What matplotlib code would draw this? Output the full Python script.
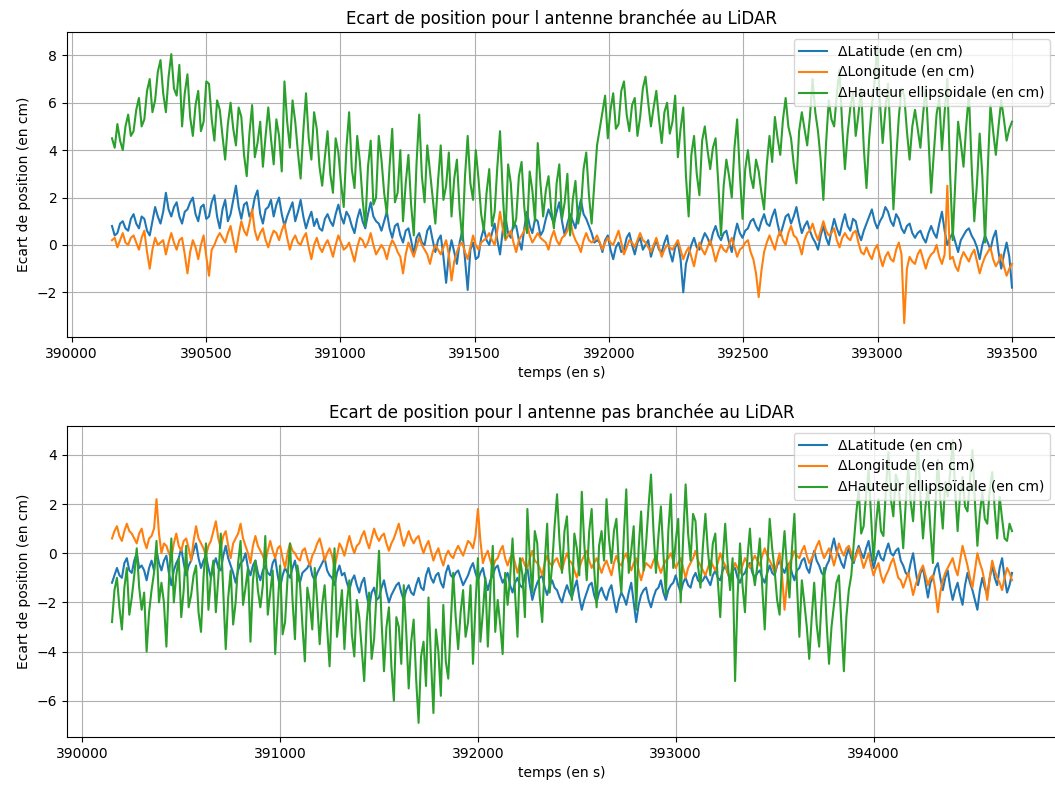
import numpy as np
import matplotlib
matplotlib.use('Agg')
import matplotlib.pyplot as plt

# antenne branchee au LiDAR : 390150 -> 393500 s
t1_start, t1_end = 390150, 393500
lat1 = [0.8, 0.5, 1.0, 0.6, 1.3, 0.7, 1.1, 0.4, 1.6, 0.9,
        2.2, 1.2, 1.8, 0.9, 1.5, 2.0, 1.0, 1.7, 1.2, 2.1,
        0.7, 1.9, 1.3, 2.5, 1.1, 1.8, 1.4, 2.3, 0.9, 1.6,
        1.2, 2.0, 0.8, 1.5, 1.0, 1.9, 0.7, 1.4, 1.1, 0.6,
        1.3, 0.8, 1.7, 0.9, 1.2, 0.5, 1.5, 0.7, 1.8, 1.0,
        0.6, 1.4, 0.3, 0.9, 0.1, 0.7, -0.4, 0.5, 0.0, 0.8,
        -0.3, 0.4, -1.6, 0.2, -0.8, 0.6, -1.9, 0.1, -0.5, 0.7,
        0.0, 0.9, -0.4, 1.2, 0.3, 0.8, -0.2, 1.4, 0.5, 1.0,
        0.6, 1.5, 0.9, 1.8, 0.4, 1.3, 0.7, 1.9, 1.1, 0.5,
        0.2, -0.3, 0.4, -0.6, 0.1, -0.2, 0.5, -0.4, 0.3, 0.0,
        -0.5, 0.2, -0.3, 0.4, -0.7, 0.1, -2.0, -0.4, 0.3, -0.2,
        0.5, 0.0, 0.8, 0.2, 0.6, -0.3, 0.9, 0.3, 0.7, 1.1,
        0.6, 1.3, 0.8, 1.5, 0.4, 1.2, 0.9, 1.6, 0.5, 1.0,
        0.3, -0.2, 0.8, 0.0, 1.1, 0.4, 1.3, 0.6, 1.0, 0.2,
        0.9, 1.5, 0.7, 1.2, 1.4, 0.8, 1.1, 0.5, 0.9, 0.3,
        0.6, 0.1, 0.8, 0.3, 1.4, 0.0, 0.5, -0.3, 0.4, 0.7,
        0.2, -0.6, 0.4, -0.2, 0.6, -1.0, 0.1, -1.8]
lat1_mid = [0.4, 0.9, 0.7, 1.1, 0.9, 1.2, 0.6, 1.0, 1.2, 1.4,
            1.5, 1.6, 1.2, 1.4, 1.8, 1.3, 1.6, 1.1, 1.8, 1.2,
            1.5, 1.0, 1.9, 1.6, 1.7, 1.2, 2.0, 1.3, 1.5, 1.9,
            1.7, 1.3, 1.2, 1.8, 1.4, 1.2, 1.1, 0.8, 0.7, 1.1,
            1.0, 1.3, 1.2, 1.4, 0.8, 1.1, 1.0, 1.3, 1.2, 0.9,
            1.0, 0.7, 0.8, 0.4, 0.6, 0.2, 0.3, 0.1, 0.6, 0.2,
            0.2, -0.5, -0.4, -0.3, 0.1, -0.6, -0.2, -0.6, 0.3, 0.2,
            0.5, 0.2, 0.6, 0.5, 0.9, 0.2, 0.7, 0.8, 1.1, 0.4,
            1.1, 1.2, 1.4, 1.0, 0.9, 1.0, 1.4, 1.3, 0.8, 0.1,
            0.1, 0.2, -0.2, -0.1, -0.3, 0.3, 0.0, 0.1, -0.2, 0.2,
            -0.1, -0.2, 0.1, -0.3, -0.1, -0.6, -0.8, 0.0, -0.1, 0.2,
            0.3, 0.5, 0.4, 0.5, 0.1, 0.4, 0.5, 0.6, 1.0, 0.8,
            1.0, 0.9, 1.2, 0.9, 0.8, 1.3, 1.2, 1.0, 0.8, 0.6,
            0.1, 0.4, 0.3, 0.6, 0.7, 0.9, 0.8, 1.1, 0.5, 0.6,
            1.2, 1.0, 1.0, 1.6, 1.0, 1.3, 0.7, 0.8, 0.5, 0.5,
            0.3, 0.5, 0.5, 0.9, 0.6, 0.3, 0.1, 0.2, 0.6, 0.4,
            -0.1, 0.0, 0.1, 0.3, -0.3, -0.4, -0.5]
lon1 = [0.2, -0.1, 0.5, 0.0, 0.4, -0.2, 0.6, -1.0, 0.3, 0.1,
        -0.4, 0.5, -0.2, 0.3, -1.2, 0.2, -0.6, 0.4, -1.3, 0.0,
        0.5, 0.1, 0.8, -0.3, 1.0, 0.4, 1.5, 0.2, 0.7, -0.1,
        0.6, 0.2, 0.9, -0.2, 0.4, 0.0, 0.5, -0.6, 0.3, -0.3,
        0.2, -0.5, 0.4, -0.2, 0.1, -0.7, 0.3, -0.1, 0.5, -0.4,
        0.0, -0.6, 0.2, -0.3, -1.2, 0.1, -0.5, 0.3, -0.2, -0.8,
        0.0, -0.4, 0.2, -1.5, -0.3, 0.1, -0.6, 0.4, -0.2, 0.2,
        0.5, 0.0, 1.4, 0.2, 0.6, -0.3, 0.4, 0.9, 0.1, 0.5,
        0.2, -0.2, 0.6, 0.0, 0.4, 1.1, 0.2, -0.3, 0.5, 0.1,
        0.4, -0.2, 0.3, 0.0, 0.6, -0.4, 0.2, -0.1, 0.5, 0.1,
        -0.3, 0.3, -0.5, 0.0, -0.2, 0.2, -0.6, -0.1, -0.9, 0.1,
        -0.4, 0.2, -0.7, 0.0, -0.3, 0.3, -0.5, -0.1, 0.2, -0.6,
        -2.2, -0.3, 0.4, -0.2, 0.6, 0.0, 0.8, 0.3, -0.4, 0.5,
        0.9, 0.2, 1.0, 0.4, 0.7, -0.1, 0.5, 0.2, 0.6, -0.3,
        -0.1, -0.6, 0.0, -0.9, -0.3, -0.7, 0.1, -3.3, -0.5, -0.8,
        -0.2, -1.0, -0.4, 0.0, -0.8, 2.5, -0.5, -1.1, -0.3, -0.7,
        -0.2, -1.2, -0.5, -0.1, -0.9, -0.4, -1.3, -0.8]
lon1_mid = [0.3, 0.2, 0.1, 0.3, 0.1, 0.3, -0.3, -0.2, 0.0, 0.2,
            0.1, 0.1, 0.2, -0.4, -0.3, -0.1, 0.0, -0.5, -0.2, 0.3,
            0.3, 0.5, 0.2, 0.4, 0.6, 0.9, 0.6, 0.5, 0.2, 0.3,
            0.5, 0.6, 0.3, 0.2, 0.1, 0.3, -0.1, 0.0, -0.1, 0.0,
            -0.1, 0.0, 0.1, -0.1, -0.3, -0.1, 0.2, 0.1, 0.0, -0.2,
            -0.2, -0.1, 0.0, -0.5, -0.4, -0.2, -0.1, 0.0, -0.4, -0.3,
            -0.2, -0.1, -0.4, -0.7, 0.0, -0.3, -0.1, 0.0, 0.1, 0.3,
            0.2, 0.6, 0.7, 0.4, 0.1, 0.2, 0.6, 0.4, 0.3, 0.3,
            0.1, 0.3, 0.2, 0.3, 0.6, 0.5, 0.0, 0.2, 0.2, 0.2,
            0.1, 0.1, 0.1, 0.3, 0.1, -0.1, 0.1, 0.2, 0.2, -0.1,
            0.0, -0.1, -0.2, -0.1, 0.0, -0.2, -0.3, -0.5, -0.3, -0.2,
            -0.1, -0.2, -0.3, -0.2, 0.0, -0.1, -0.2, 0.1, -0.3, -1.2,
            -1.1, 0.1, 0.1, 0.3, 0.2, 0.5, 0.4, 0.0, 0.2, 0.6,
            0.5, 0.6, 0.6, 0.5, 0.2, 0.3, 0.3, 0.5, 0.1, -0.4,
            -0.4, -0.2, -0.5, -0.5, -0.6, -0.2, -0.4, -1.0, -0.7, -0.4,
            -0.6, -0.6, -0.3, -0.5, -0.4, -0.6, -0.9, -0.6, -0.5, -0.4,
            -0.7, -0.8, -0.3, -0.6, -0.7, -0.9, -1.0]
haut1 = [4.5, 5.1, 4.0, 5.5, 4.8, 6.2, 5.3, 7.0, 6.1, 7.8,
         5.6, 8.05, 6.3, 5.0, 7.2, 4.6, 6.5, 5.2, 6.8, 4.4,
         5.7, 3.6, 6.0, 4.2, 5.4, 2.9, 5.9, 4.3, 3.3, 5.8,
         3.4, 4.6, 6.9, 4.1, 5.2, 2.8, 6.4, 3.6, 4.9, 2.5,
         4.8, 2.2, 3.9, 1.6, 5.6, 2.4, 3.5, 0.8, 4.4, 2.0,
         3.6, 1.3, 4.9, 2.2, 1.0, 3.8, 0.4, 5.5, 1.8, 3.1,
         0.9, 4.2, 2.5, 1.2, 3.6, 0.2, 4.6, 1.9, 2.8, 0.6,
         3.2, 1.4, 4.8, 0.3, 2.6, 1.1, 3.5, 0.5, 2.3, 4.3,
         1.2, 2.9, 0.7, 3.4, 1.8, 0.4, 2.7, 1.5, 3.9, 0.9,
         4.2, 5.6, 4.5, 6.4, 5.1, 6.9, 4.8, 6.2, 5.4, 7.1,
         5.0, 6.5, 4.3, 6.0, 5.2, 3.7, 5.8, 1.2, 4.6, 2.1,
         5.0, 3.2, 4.5, 0.4, 3.6, 2.0, 5.3, 1.1, 4.0, 2.4,
         3.1, 1.5, 4.6, 5.4, 3.8, 6.2, 4.5, 2.6, 5.6, 4.2,
         7.0, 4.8, 1.9, 6.1, 5.0, 7.4, 3.2, 5.8, 4.6, 6.6,
         2.4, 5.9, 8.4, 4.3, 6.8, 1.5, 5.4, 6.3, 3.6, 5.7,
         4.1, 6.7, 2.2, 5.5, 4.0, 7.0, 0.2, 5.2, 3.3, 6.4,
         1.0, 4.7, 0.1, 5.9, 3.8, 6.1, 4.4, 5.2]
haut1_mid = [4.1, 4.4, 5.0, 4.6, 5.7, 5.0, 6.5, 5.6, 7.3, 6.4,
             7.1, 6.6, 7.6, 6.4, 5.4, 5.9, 4.8, 6.9, 5.3, 6.1,
             4.6, 5.1, 4.9, 5.8, 3.8, 4.7, 3.7, 5.2, 4.6, 4.5,
             5.3, 3.1, 5.2, 6.1, 3.9, 4.8, 4.5, 5.6, 3.3, 3.7,
             3.0, 4.5, 2.6, 4.1, 3.2, 4.6, 1.9, 3.3, 1.7, 4.6,
             2.2, 3.3, 1.8, 4.0, 2.6, 1.7, 3.4, 2.9, 4.2, 2.0,
             2.7, 1.9, 3.9, 2.8, 1.5, 2.9, 2.6, 4.0, 1.3, 2.2,
             0.8, 3.3, 2.2, 3.4, 0.7, 2.9, 1.6, 3.1, 1.0, 2.6,
             2.3, 1.5, 2.6, 1.1, 3.0, 1.9, 0.9, 3.2, 2.1, 2.6,
             4.9, 6.3, 5.7, 4.9, 6.5, 5.5, 5.9, 4.6, 6.6, 6.0,
             5.8, 5.3, 5.6, 4.7, 6.3, 4.9, 2.9, 3.8, 3.0, 4.4,
             4.0, 4.1, 2.6, 2.5, 2.9, 4.1, 3.0, 3.2, 2.9, 3.6,
             2.2, 3.4, 3.5, 4.5, 5.3, 5.0, 3.4, 4.8, 4.9, 5.4,
             5.6, 3.6, 4.3, 5.3, 6.4, 5.0, 4.7, 6.4, 5.5, 4.1,
             4.5, 6.9, 6.0, 5.7, 4.4, 3.6, 6.6, 4.8, 5.0, 4.9,
             5.5, 4.5, 3.9, 6.2, 5.6, 3.1, 2.8, 4.3, 5.0, 3.4,
             2.6, 2.9, 3.2, 4.8, 5.0, 5.3, 4.9]

# antenne pas branchee au LiDAR : 390150 -> 394700 s
t2_start, t2_end = 390150, 394700
lat2 = [-1.2, -0.6, -1.0, -0.2, -0.8, 0.0, -0.5, -1.1, -0.3, 0.1,
        -0.7, -0.1, -1.3, -0.4, 0.2, -0.9, -0.3, 0.4, -0.6, -0.1,
        -1.0, -0.2, -0.7, 0.3, -0.5, -1.2, -0.4, 0.0, -0.9, -0.3,
        -1.1, -0.5, -0.9, -0.2, -1.4, -0.6, -1.0, -0.3, -1.2, -0.7,
        -0.4, -1.1, -0.6, -0.2, -0.9, -1.3, -0.5, -0.8, -1.5, -0.9,
        -1.6, -1.0, -2.2, -1.4, -1.8, -1.1, -2.0, -1.5, -1.2, -1.9,
        -1.3, -1.7, -1.0, -1.5, -0.6, -1.2, -0.8, -1.4, -0.5, -1.0,
        -0.7, -1.3, -0.9, -0.4, -1.1, -0.6, -1.5, -0.9, -0.5, -1.2,
        -0.8, -1.6, -1.0, -1.4, -0.6, -1.9, -1.2, -0.9, -1.7, -1.1,
        -1.5, -2.0, -1.3, -1.8, -1.1, -2.3, -1.6, -1.2, -2.0, -1.4,
        -1.9, -1.3, -2.4, -1.6, -2.1, -1.2, -2.8, -1.7, -1.4, -2.2,
        -1.5, -1.1, -1.9, -1.3, -0.9, -1.6, -1.0, -1.4, -0.8, -1.2,
        -0.9, -1.3, -0.7, -1.1, -0.5, -1.0, -0.6, -1.2, -0.8, -0.4,
        -1.0, -0.7, -1.2, -0.5, -0.9, -0.3, -0.8, -0.4, -1.1, -0.6,
        -0.2, -0.8, 0.1, -0.5, -0.9, -0.3, 0.6, -0.1, -0.6, 0.2,
        -0.4, 0.3, -0.2, 0.5, -0.6, 0.1, -0.3, 0.4, -0.1, 0.2,
        -0.5, -0.9, 0.0, -1.3, -0.6, -1.8, -1.0, -0.4, -1.5, -0.7,
        -1.9, -1.2, -2.1, -0.8, -1.5, -2.3, -1.0, -1.7, -0.5, -1.3,
        -0.2, -1.6, -0.8]
lat2_mid = [-0.9, -0.9, -0.4, -0.7, -0.3, -0.6, -0.7, -0.6, -0.7, -0.4,
            -0.3, -0.8, -0.7, -0.2, -0.4, -0.5, 0.1, -0.2, -0.3, -0.6,
            -0.5, -0.6, -0.1, -0.2, -0.8, -0.7, -0.3, -0.6, -0.5, -0.8,
            -0.7, -0.8, -0.4, -0.9, -0.9, -0.8, -0.6, -0.9, -0.8, -0.6,
            -0.9, -0.8, -0.4, -0.7, -1.0, -0.8, -0.9, -1.2, -1.1, -1.3,
            -1.2, -1.7, -1.6, -1.9, -1.4, -1.6, -1.7, -1.3, -1.6, -1.5,
            -1.6, -1.3, -1.4, -0.9, -1.0, -0.9, -1.2, -0.8, -0.9, -0.8,
            -1.0, -1.1, -0.6, -0.8, -0.8, -1.1, -1.1, -0.6, -0.9, -1.0,
            -1.3, -1.2, -1.3, -0.9, -1.3, -1.5, -1.0, -1.4, -1.3, -1.4,
            -1.8, -1.6, -1.6, -1.4, -1.8, -1.9, -1.3, -1.7, -1.6, -1.7,
            -1.5, -1.9, -1.9, -1.8, -1.6, -2.0, -2.1, -1.5, -1.9, -1.8,
            -1.4, -1.6, -1.5, -1.2, -1.3, -1.2, -1.3, -1.0, -1.1, -1.1,
            -1.1, -0.9, -1.0, -0.7, -0.8, -0.7, -1.0, -0.9, -0.5, -0.8,
            -0.8, -1.0, -0.8, -0.8, -0.5, -0.6, -0.5, -0.8, -0.7, -0.3,
            -0.6, -0.3, -0.3, -0.8, -0.5, 0.2, 0.1, -0.4, -0.1, -0.2,
            0.0, 0.0, 0.2, -0.1, -0.2, -0.2, 0.1, 0.0, 0.1, -0.3,
            -0.8, -0.4, -0.7, -0.8, -1.2, -1.2, -0.6, -1.0, -1.0, -1.4,
            -1.5, -1.7, -1.3, -1.2, -1.9, -1.5, -1.4, -1.0, -1.0, -0.6,
            -1.0, -1.3]
lon2 = [0.6, 1.1, 0.5, 1.2, 0.8, 0.4, 1.0, 0.2, 0.7, 2.2,
        0.0, 0.3, -0.2, 0.8, 0.1, 0.6, -0.3, 1.1, 0.4, -0.1,
        0.5, 1.3, 0.2, 0.9, -0.2, 0.6, 1.2, 0.3, -0.4, 0.7,
        0.1, -0.4, 0.5, -0.2, 0.3, -0.6, 0.4, 0.0, -0.3, 0.2,
        -0.5, 0.1, 0.6, -0.3, 0.2, -0.6, 0.4, -0.1, 0.7, 0.0,
        0.4, 0.9, 0.2, 1.0, 0.5, 0.8, 0.1, 0.6, 1.2, 0.3,
        0.9, 0.4, 0.7, 0.0, 0.5, -0.3, 0.2, -0.5, 0.1, -0.2,
        0.3, -0.1, 0.5, 0.2, 1.8, -0.4, 0.1, -0.6, -0.2, 0.3,
        -0.5, 0.0, -0.8, -0.2, -0.6, 0.1, -0.4, -0.9, -0.1, -0.5,
        -0.2, -0.7, 0.0, -0.4, -1.0, -0.3, 0.1, -0.6, -0.2, -0.8,
        -0.3, -0.9, -0.1, -0.5, 0.0, -0.7, -0.2, -1.1, -0.4, -0.6,
        -0.1, -0.8, -0.3, 0.0, -0.6, -0.2, -1.0, -0.4, 0.1, -0.5,
        -0.9, -0.3, -0.7, 0.0, -0.5, -1.1, -0.4, -0.8, -0.2, -0.6,
        -0.1, -0.5, 0.2, -0.3, -0.8, 0.0, -2.3, -0.4, 0.1, -0.2,
        0.3, -0.4, 0.0, 0.5, -0.2, 0.2, -0.5, 0.4, -0.1, 0.3,
        -0.3, 0.2, -0.6, 0.0, -0.9, -0.4, -1.2, -0.7, -0.2, -1.0,
        -1.4, -0.8, -1.7, -1.0, -0.5, -1.3, -0.9, -2.4, -1.1, -0.6,
        -0.2, -0.9, 0.3, -0.5, -1.4, 0.0, -0.7, -1.9, -0.3, -1.0,
        -1.5, -0.6, -1.1]
lon2_mid = [0.9, 0.7, 0.9, 0.9, 0.6, 0.8, 0.5, 0.6, 1.0, 0.8,
            0.4, 0.0, 0.4, 0.3, 0.5, 0.2, 0.5, 0.6, 0.2, 0.3,
            0.9, 0.6, 0.7, 0.3, 0.4, 0.8, 0.6, 0.0, 0.3, 0.3,
            -0.1, 0.1, 0.1, 0.2, -0.2, 0.0, 0.1, -0.2, 0.1, -0.2,
            -0.1, 0.4, 0.2, 0.0, -0.1, -0.1, 0.2, 0.3, 0.3, 0.3,
            0.7, 0.5, 0.6, 0.7, 0.7, 0.4, 0.4, 0.9, 0.7, 0.6,
            0.6, 0.6, 0.3, 0.3, 0.1, 0.0, -0.2, -0.1, -0.1, 0.1,
            0.1, 0.2, 0.4, 0.7, 0.5, -0.1, -0.3, -0.3, 0.1, -0.2,
            -0.2, -0.4, -0.4, -0.5, -0.2, -0.3, -0.6, -0.4, -0.4, -0.3,
            -0.5, -0.3, -0.3, -0.7, -0.6, -0.1, -0.3, -0.4, -0.5, -0.5,
            -0.6, -0.4, -0.4, -0.2, -0.4, -0.4, -0.7, -0.7, -0.5, -0.3,
            -0.5, -0.5, -0.2, -0.3, -0.4, -0.6, -0.6, -0.2, -0.3, -0.7,
            -0.6, -0.5, -0.4, -0.3, -0.8, -0.7, -0.6, -0.5, -0.4, -0.3,
            -0.3, -0.1, -0.1, -0.5, -0.4, -0.9, -1.2, -0.2, -0.1, 0.1,
            -0.1, -0.2, 0.3, 0.1, 0.0, -0.1, -0.1, 0.1, 0.2, 0.0,
            -0.1, -0.2, -0.3, -0.5, -0.6, -0.9, -0.9, -0.4, -0.6, -1.1,
            -1.1, -1.2, -1.3, -0.7, -0.9, -1.0, -1.5, -1.6, -0.8, -0.4,
            -0.6, -0.3, -0.1, -1.0, -0.7, -0.4, -1.2, -1.0, -0.7, -1.2,
            -1.0, -0.8]
haut2 = [-2.8, -1.0, -3.1, -0.6, -1.8, 0.2, -2.3, -4.0, -1.5, 0.5,
         -1.2, -3.8, 0.6, -0.9, -2.6, 0.3, -1.7, -0.5, -3.2, 0.4,
         -1.0, -2.4, 0.8, -3.9, -0.7, -2.0, 0.5, -1.4, -3.6, -0.3,
         -2.2, 0.7, -1.6, -4.1, -0.5, -2.8, 0.4, -3.5, -1.2, -4.4,
         -2.0, -0.6, -3.7, -1.3, -4.6, 0.2, -2.5, -3.9, -1.1, -4.2,
         -2.6, -5.2, -1.6, -3.5, 0.1, -4.8, -2.2, -6.0, -3.0, -1.3,
         -5.5, -2.7, -6.9, -3.6, -1.8, -6.5, -4.0, -2.1, -5.1, -0.8,
         -3.9, -1.5, -2.8, -4.5, -0.2, -2.4, -3.8, 0.3, -1.9, -4.1,
         -2.1, 0.6, -3.4, -0.9, 1.8, -1.6, 0.4, -2.8, 1.2, -0.5,
         2.4, -0.8, 1.5, -1.9, 0.2, 2.5, -1.1, 1.8, -2.2, 0.9,
         2.2, -0.4, 1.4, -1.6, 2.6, 0.1, -2.3, 1.7, 0.4, 3.2,
         -0.8, 1.9, -1.7, 2.4, 0.5, -2.0, 2.8, -0.3, 1.3, -1.4,
         1.6, -0.9, 0.8, -2.6, 1.2, -1.5, -5.2, 0.4, -2.4, 1.0,
         -1.3, 0.6, -3.1, 1.4, -0.7, -2.5, 0.9, -1.8, 1.6, -3.4,
         -2.0, -4.3, -1.2, -3.8, -0.6, -4.5, -2.1, -0.9, -4.8, -1.5,
         0.4, 2.6, 1.1, 3.4, -0.3, 2.2, 0.7, 4.1, 1.5, 2.9,
         0.2, 3.5, 1.3, 4.4, 0.6, 2.7, -0.4, 3.8, 1.0, 2.3,
         4.6, 0.9, 3.1, 1.7, 4.2, 0.3, 2.5, 1.2, 3.3, 0.6,
         1.4, 0.5, 0.9]
haut2_mid = [-1.5, -2.2, -1.4, -2.5, -0.9, -1.4, -1.6, -2.4, -0.8, -2.0,
             -2.0, -1.2, -2.0, -0.2, -1.5, -2.2, -0.9, -2.4, -1.0, -2.3,
             -0.3, -1.0, -1.6, -1.8, -2.9, -0.4, -2.1, -0.6, -1.1, -1.5,
             -1.3, -2.5, -0.7, -2.2, -3.3, -1.0, -1.9, -0.5, -2.9, -1.4,
             -3.1, -2.0, -2.1, -3.0, -1.9, -3.4, -1.5, -2.0, -3.3, -1.9,
             -3.9, -2.8, -4.3, -1.6, -2.7, -3.0, -4.6, -2.6, -4.5, -3.2,
             -3.6, -5.1, -4.2, -5.4, -4.3, -3.1, -5.8, -4.4, -2.9, -2.6,
             -2.4, -3.4, -1.3, -2.1, -3.6, -1.0, -1.6, -3.2, -2.9, -0.8,
             -1.0, -1.6, -0.2, -2.6, -0.3, 0.9, -1.8, -0.4, -1.6, 1.1,
             0.5, 0.9, -0.7, 0.8, -0.9, 0.4, 0.9, -0.6, 0.3, -0.3,
             0.6, 0.9, -0.5, 0.7, -0.8, 1.1, 0.2, -0.7, 1.9, 0.9,
             0.7, 0.0, 0.9, -0.6, 1.4, 0.6, 0.8, 1.6, -0.5, 0.3,
             0.1, 0.4, -1.1, -0.3, -0.4, -0.2, -1.8, -1.3, -0.2, -0.6,
             -0.5, -1.4, -0.6, 0.2, -1.9, -0.4, -0.6, 0.2, -1.2, -1.1,
             -3.0, -2.6, -2.9, -1.9, -2.8, -3.0, -1.2, -2.9, -2.6, -0.9,
             1.6, 0.8, 2.4, 1.5, 1.2, 0.9, 2.6, 2.2, 3.2, 1.6,
             2.0, 2.1, 3.0, 2.2, 1.9, 1.0, 1.9, 2.2, 2.9, 3.3,
             2.6, 2.4, 1.9, 3.0, 2.1, 1.6, 1.4, 2.6, 1.8, 2.3,
             0.6, 1.2]


def interleave(main, mid):
    # range les valeurs intermediaires entre les valeurs principales
    out = np.empty(len(main) + len(mid))
    out[0::2] = main
    out[1::2] = mid
    return out


lat1_all = interleave(lat1, lat1_mid)
lon1_all = interleave(lon1, lon1_mid)
haut1_all = interleave(haut1, haut1_mid)
lat2_all = interleave(lat2, lat2_mid)
lon2_all = interleave(lon2, lon2_mid)
haut2_all = interleave(haut2, haut2_mid)

t1 = np.linspace(t1_start, t1_end, len(lat1_all))
t2 = np.linspace(t2_start, t2_end, len(lat2_all))

fig = plt.figure(figsize=(10.55, 7.87), dpi=100)
ax1 = fig.add_axes([67/1055, 1-337/787, 990/1055, 305/787])
ax2 = fig.add_axes([67/1055, 1-737/787, 990/1055, 311/787])

ax1.plot(t1, lat1_all, label='ΔLatitude (en cm)')
ax1.plot(t1, lon1_all, label='ΔLongitude (en cm)')
ax1.plot(t1, haut1_all, label='ΔHauteur ellipsoidale (en cm)')
ax1.set_title('Ecart de position pour l antenne branchée au LiDAR')
ax1.set_xlabel('temps (en s)')
ax1.set_ylabel('Ecart de position (en cm)')
ax1.grid(True)
ax1.legend(loc='upper right')

ax2.plot(t2, lat2_all, label='ΔLatitude (en cm)')
ax2.plot(t2, lon2_all, label='ΔLongitude (en cm)')
ax2.plot(t2, haut2_all, label='ΔHauteur ellipsoïdale (en cm)')
ax2.set_title('Ecart de position pour l antenne pas branchée au LiDAR')
ax2.set_xlabel('temps (en s)')
ax2.set_ylabel('Ecart de position (en cm)')
ax2.grid(True)
ax2.legend(loc='upper right')

fig.savefig('out.png', dpi=100)
